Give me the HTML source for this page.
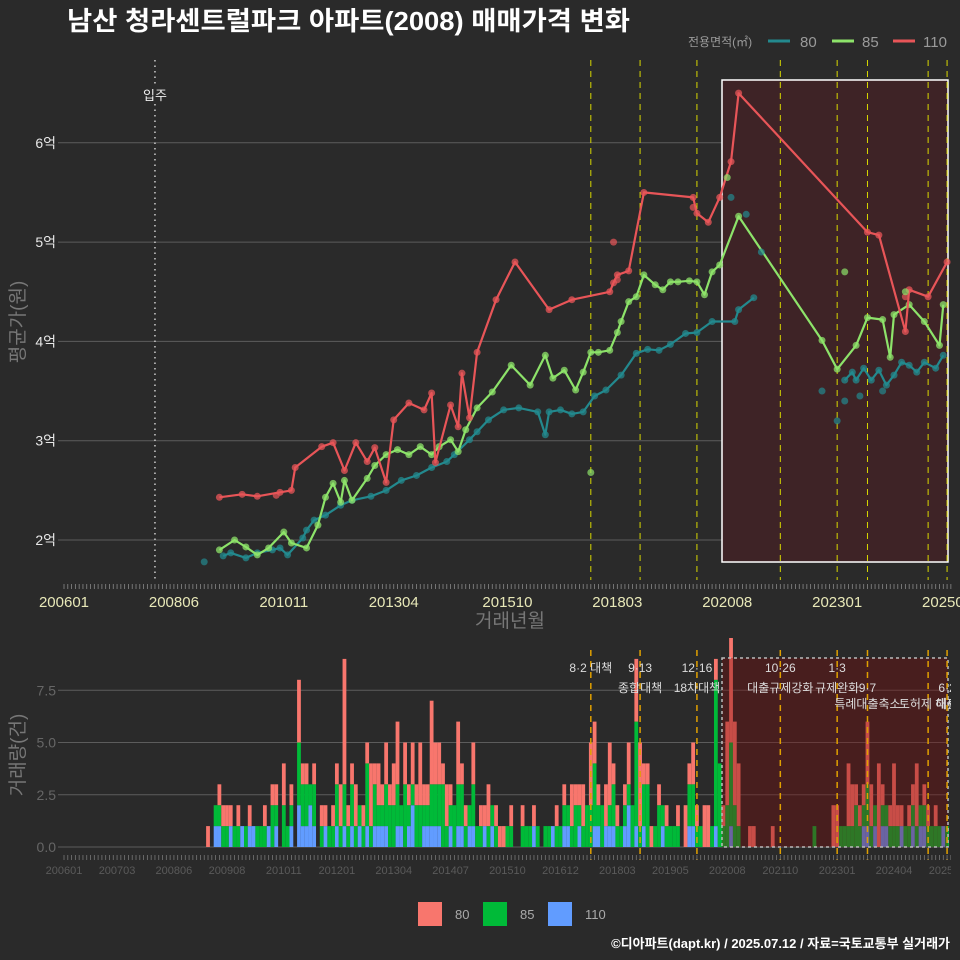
<!DOCTYPE html>
<html><head><meta charset="utf-8">
<style>
html,body{margin:0;padding:0;background:#2a2a2a;}
svg{display:block;font-family:"Liberation Sans","Noto Sans CJK KR",sans-serif;}
</style></head>
<body>
<svg id="c" width="960" height="960" viewBox="0 0 960 960" xmlns="http://www.w3.org/2000/svg">
<rect x="0" y="0" width="960" height="960" fill="#2a2a2a"/>
<text x="67" y="30" fill="#ffffff" font-size="26" font-weight="bold" textLength="563" lengthAdjust="spacingAndGlyphs">남산 청라센트럴파크 아파트(2008) 매매가격 변화</text>
<g>
<text x="688" y="46" fill="#9a9a9a" font-size="12">전용면적(㎡)</text>
<line x1="768" y1="41" x2="790" y2="41" stroke="#23898e" stroke-width="3"/>
<text x="800" y="47" fill="#9a9a9a" font-size="15">80</text>
<line x1="832" y1="41" x2="854" y2="41" stroke="#8de36a" stroke-width="3"/>
<text x="862" y="47" fill="#9a9a9a" font-size="15">85</text>
<line x1="893" y1="41" x2="915" y2="41" stroke="#e85558" stroke-width="3"/>
<text x="923" y="47" fill="#9a9a9a" font-size="15">110</text>
</g>
<text transform="translate(24,322) rotate(-90)" text-anchor="middle" fill="#777" font-size="19">평균가(원)</text>
<text x="510" y="627" text-anchor="middle" fill="#777" font-size="19">거래년월</text>
<text transform="translate(24,755) rotate(-90)" text-anchor="middle" fill="#777" font-size="19">거래량(건)</text>
<g id="topPanel"></g>
<g id="botPanel"></g>
<g>
<rect x="418" y="902" width="24" height="24" fill="#f8766d"/>
<text x="455" y="919" fill="#aaa" font-size="13">80</text>
<rect x="483" y="902" width="24" height="24" fill="#00ba38"/>
<text x="520" y="919" fill="#aaa" font-size="13">85</text>
<rect x="548" y="902" width="24" height="24" fill="#619cff"/>
<text x="585" y="919" fill="#aaa" font-size="13">110</text>
</g>
<text x="950" y="948" text-anchor="end" fill="#ffffff" font-size="13" font-weight="bold">©디아파트(dapt.kr) / 2025.07.12 / 자료=국토교통부 실거래가</text>
</svg>
<script>
// ---- data ----
const months110 = ["200906","200912","201004","201010","201101","201102","201109","201112","201203","201206","201209","201211","201302","201304","201308","201312","201402","201403","201407","201409","201410","201412","201502","201507","201512","201609","201703","201801","201802","201803","201806","201810","201911","201912","202003","202006","202009","202011","202309","202312","202407","202408","202501","202506"];
const vals110 = [2.43,2.46,2.44,2.48,2.50,2.73,2.94,2.98,2.70,2.98,2.79,2.93,2.58,3.21,3.38,3.31,3.48,2.78,3.36,3.14,3.68,3.23,3.89,4.42,4.80,4.32,4.42,4.50,4.59,4.67,4.71,5.50,5.45,5.29,5.20,5.45,5.81,6.50,5.10,5.07,4.10,4.52,4.45,4.80];
const months85 = ["200906","200910","201001","201004","201007","201011","201101","201105","201108","201110","201112","201202","201203","201205","201209","201211","201302","201305","201308","201311","201402","201404","201407","201409","201411","201502","201506","201511","201604","201608","201610","201701","201704","201706","201708","201710","201801","201803","201804","201806","201808","201810","201901","201903","201905","201907","201910","201912","202002","202004","202006","202011","202209","202301","202306","202309","202401","202403","202404","202408","202412","202504","202505"];
const vals85 = [1.90,2.00,1.93,1.85,1.92,2.08,1.97,1.92,2.15,2.43,2.57,2.38,2.60,2.40,2.62,2.75,2.86,2.91,2.86,2.94,2.86,2.94,3.01,2.89,3.11,3.33,3.49,3.76,3.56,3.86,3.63,3.71,3.51,3.69,3.89,3.89,3.91,4.09,4.20,4.40,4.45,4.67,4.57,4.52,4.60,4.60,4.61,4.60,4.47,4.70,4.77,5.26,4.01,3.72,3.96,4.24,4.22,3.84,4.27,4.37,4.20,3.96,4.37];
const months80 = ["200907","200909","201001","201004","201008","201010","201012","201104","201105","201107","201110","201202","201205","201210","201302","201306","201310","201402","201406","201408","201412","201502","201505","201509","201601","201606","201608","201609","201612","201703","201706","201709","201712","201804","201808","201811","201902","201905","201909","201912","202004","202010","202011","202103","202104","202303","202305","202306","202308","202310","202312","202402","202404","202406","202408","202410","202412","202503","202505"];
const vals80 = [1.84,1.87,1.82,1.87,1.90,1.92,1.85,2.02,2.10,2.20,2.25,2.35,2.40,2.44,2.50,2.60,2.65,2.73,2.79,2.86,3.01,3.09,3.21,3.31,3.33,3.29,3.06,3.29,3.31,3.27,3.29,3.45,3.51,3.66,3.88,3.92,3.91,3.97,4.08,4.09,4.20,4.20,4.32,4.44,null,3.61,3.69,3.61,3.73,3.61,3.71,3.56,3.66,3.79,3.76,3.69,3.79,3.73,3.86];
const extraMonths = ["200902","201009","201802","201803","201911","202407","201708","202008","202303","202407","202009","202101","202105","202209","202301","202303","202307","202401"];
const extraVals = [1.78,2.45,5.00,4.62,5.35,4.45,2.68,5.65,4.70,4.50,5.45,5.28,4.90,3.50,3.20,3.40,3.45,3.50];
const extraSeries = ["80","110","110","110","110","110","85","85","85","85","80","80","80","80","80","80","80","80"];
const priceTicks = [2,3,4,5,6];
const priceTickLabels = ["2억","3억","4억","5억","6억"];
const xTickMonths = ["200601","200806","201011","201304","201510","201803","202008","202301","202506"];
const xTickLabels = ["200601","200806","201011","201304","201510","201803","202008","202301","202506"];
const botTickMonths = ["200601","200703","200806","200908","201011","201201","201304","201407","201510","201612","201803","201905","202008","202110","202301","202404","202506"];
const volTicks = [0,2.5,5,7.5];
const volTickLabels = ["0.0","2.5","5.0","7.5"];
const policyMonths = ["201708","201809","201912","202110","202301","202309","202501","202506"];
const policyTop = ["8·2 대책","9·13","12·16","10·26","1·3","","",""];
const policyBottom = ["","종합대책","18차대책","대출규제강화","규제완화","9·7","","6·2"];
const policyThird = ["","","","","","특례대출축소","토허제 해제","대출"];
const barStart = "200901";
const c80 = [0,0,1,0,0,1,1,1,1,0,1,0, 0,1,0,0,0,1,0,1,1,0,2,0, 1,0,3,1,1,0,1,0,1,1,0,1, 1,2,6,1,1,2,0,1,1,3,1,2, 1,2,1,2,3,0,2,1,2,1,3,1, 1,4,2,2,1,2,1,0,3,1,1,0, 2,0,1,1,2,0,1,1,1,0,1,0, 0,1,0,0,1,0,0,0,0,0,1,0, 1,0,2,1,1,2,0,3,2,1,0,2, 3,1,1,0,1,2,0,3,4,1,1,1, 0,1,0,1,0,0,1,0,2,1,2,1, 0,2,2,0,1,0,1,4,5,4,3,0, 0,1,1,0,0,0,0,1,0,0,0,0, 0,0,0,0,0,0,0,0,0,0,0,2, 2,0,0,3,2,1,1,1,3,2,0,4, 1,0,1,3,1,1,0,1,1,3,0,1, 1,0,1,0,0,0];
const c85 = [0,0,0,0,1,1,1,1,0,1,1,0, 1,0,0,1,1,1,0,2,1,0,2,1, 1,0,3,2,2,1,2,0,1,0,1,1, 2,1,2,1,2,1,1,1,3,1,2,1, 1,2,2,2,2,1,3,1,1,2,2,1, 1,2,2,2,3,1,1,2,2,2,1,1, 2,1,1,0,1,1,1,0,0,1,1,0, 0,1,1,1,0,1,0,1,1,0,1,1, 1,1,1,2,1,1,2,2,3,1,2,0, 1,2,1,1,1,1,2,5,1,2,3,0, 1,2,1,1,1,1,1,0,0,2,2,1, 1,0,0,1,7,4,1,2,4,2,1,0, 0,0,0,0,0,0,0,0,0,0,0,0, 0,0,0,0,0,0,1,0,0,0,0,0, 0,1,1,1,1,2,1,1,2,1,1,0, 1,1,1,1,1,0,1,1,1,1,1,1, 1,1,1,1,0,1];
const c110 = [0,0,0,0,1,1,0,0,1,0,0,1, 0,1,1,0,0,0,1,0,1,0,0,0, 1,0,2,1,1,2,1,0,0,1,0,0, 1,0,1,0,1,0,1,0,1,0,1,1, 1,1,0,0,1,1,0,1,2,0,0,1, 1,1,1,1,0,0,1,0,1,1,0,1, 1,0,0,1,0,1,0,0,0,0,0,0, 0,0,0,0,1,0,0,0,0,1,0,0, 1,1,0,0,1,0,0,0,1,1,0,1, 1,1,0,0,1,2,0,1,0,1,0,0, 0,0,1,0,0,0,0,0,0,1,1,0, 0,0,0,0,1,0,0,0,1,0,0,0, 0,0,0,0,0,0,0,0,0,0,0,0, 0,0,0,0,0,0,0,0,0,0,0,0, 0,0,0,0,0,0,0,1,1,0,1,0, 1,1,0,0,0,1,0,0,1,0,1,1, 0,0,0,0,1,0];

// ---- scales ----
const NS = "http://www.w3.org/2000/svg";
function mi(s){ return (parseInt(s.slice(0,4),10)-2006)*12 + (parseInt(s.slice(4,6),10)-1); }
function X(m){ return 64 + 3.79*m; }
function Yp(v){ return 540 - (v-2)*99.3; }
function Yv(v){ return 847 - v*20.9; }
function mk(parent, tag, attrs){ const e=document.createElementNS(NS,tag); for(const k in attrs) e.setAttribute(k,attrs[k]); parent.appendChild(e); return e; }
const topG = document.getElementById('topPanel');
const botG = document.getElementById('botPanel');

// ---- top panel ----
priceTicks.forEach((t,i)=>{
  const g = mk(topG,'line',{x1:58,x2:948,y1:Yp(t),y2:Yp(t),stroke:'#5c5c5c','stroke-width':1});
  
  
  const tl = mk(topG,'text',{x:56,y:Yp(t)+5,'text-anchor':'end',fill:'#e8e8e8','font-size':14});
  tl.textContent = priceTickLabels[i];
  
  
});
const hl = mk(topG,'rect',{x:722,y:80,width:226,height:482,fill:'#3e2326',stroke:'#ffffff','stroke-width':1.5});


for(let m=0;m<=234;m++){
  const t = mk(topG,'line',{x1:X(m),x2:X(m),y1:584,y2:589,stroke:'#888','stroke-width':0.8});
  
  
}
xTickMonths.forEach((s,i)=>{
  const t = mk(topG,'text',{x:X(mi(s)),y:607,'text-anchor':'middle',fill:'#e8e8b8','font-size':15});
  t.textContent = xTickLabels[i];
  
  
});
const inju = mk(topG,'line',{x1:X(mi("200801")),x2:X(mi("200801")),y1:60,y2:580,stroke:'#cccccc','stroke-width':1.5,'stroke-dasharray':'1.5 4'});


const injuT = mk(topG,'rect',{x:X(mi("200801"))-14,y:86,width:28,height:18,fill:'#2a2a2a'});


const injuL = mk(topG,'text',{x:X(mi("200801")),y:100,'text-anchor':'middle',fill:'#eeeeee','font-size':13});
injuL.textContent='입주';


policyMonths.forEach(s=>{
  const l = mk(topG,'line',{x1:X(mi(s)),x2:X(mi(s)),y1:60,y2:580,stroke:'#d8d800','stroke-width':1,'stroke-dasharray':'6 5'});
  
  
});
function series(months, vals, color, name){
  let d='', pen=false;
  months.forEach((s,i)=>{
    const v = vals[i];
    if(v===null){ pen=false; return; }
    d += (pen?'L':'M') + X(mi(s)).toFixed(1)+' '+Yp(v).toFixed(1)+' ';
    pen=true;
  });
  const p = mk(topG,'path',{d:d,fill:'none',stroke:color,'stroke-width':2.2,'stroke-linejoin':'round'});
  
  
  months.forEach((s,i)=>{
    const v = vals[i]; if(v===null) return;
    const c = mk(topG,'circle',{cx:X(mi(s)),cy:Yp(v),r:3.5,fill:color,'fill-opacity':0.75});
    
    
  });
}
series(months80, vals80, '#23898e', '80');
series(months85, vals85, '#8de36a', '85');
series(months110, vals110, '#e85558', '110');
const colMap = {"80":"#23898e","85":"#8de36a","110":"#e85558"};
extraMonths.forEach((s,i)=>{
  const c = mk(topG,'circle',{cx:X(mi(s)),cy:Yp(extraVals[i]),r:3.5,fill:colMap[extraSeries[i]],'fill-opacity':0.7});
  
  
});

// ---- bottom panel ----
volTicks.forEach((t,i)=>{
  const g = mk(botG,'line',{x1:58,x2:948,y1:Yv(t),y2:Yv(t),stroke:'#5c5c5c','stroke-width':1});
  
  
  const tl = mk(botG,'text',{x:56,y:Yv(t)+5,'text-anchor':'end',fill:'#666','font-size':14});
  tl.textContent = volTickLabels[i];
  
  
});
const b0 = mi(barStart);
for(let i=0;i<c80.length;i++){
  const m = b0+i, x = X(m)-1.9;
  let base = 0;
  [[c110[i],'#619cff','110'],[c85[i],'#00ba38','85'],[c80[i],'#f8766d','80']].forEach(([v,col,n])=>{
    if(!v) return;
    const r = mk(botG,'rect',{x:x,y:Yv(base+v),width:3.79,height:Yv(base)-Yv(base+v),fill:col});
    
    
    base += v;
  });
}
const hb = mk(botG,'rect',{x:722,y:658,width:226,height:189,fill:'rgba(120,10,10,0.38)',stroke:'#bbbbbb','stroke-width':1.5,'stroke-dasharray':'3 3'});


policyMonths.forEach((s,i)=>{
  const x = X(mi(s));
  const l = mk(botG,'line',{x1:x,x2:x,y1:650,y2:860,stroke:'#e0a000','stroke-width':1.5,'stroke-dasharray':'6 5'});
  
  
  [[policyTop[i],672],[policyBottom[i],692],[policyThird[i],708]].forEach(([t,y])=>{
    if(!t) return;
    const tx = mk(botG,'text',{x:x,y:y,'text-anchor':'middle',fill:'#dddddd','font-size':12});
    tx.textContent = t;
    
    
  });
});
for(let m=0;m<=234;m++){
  const t = mk(botG,'line',{x1:X(m),x2:X(m),y1:855,y2:860,stroke:'#777','stroke-width':0.8});
  
  
}
botTickMonths.forEach(s=>{
  const t = mk(botG,'text',{x:X(mi(s)),y:874,'text-anchor':'middle',fill:'#5a5a5a','font-size':11});
  t.textContent = s;
  
  
});
const mask = mk(document.getElementById('c'),'rect',{x:951,y:640,width:9,height:240,fill:'#2a2a2a'});


</script>
</body></html>
